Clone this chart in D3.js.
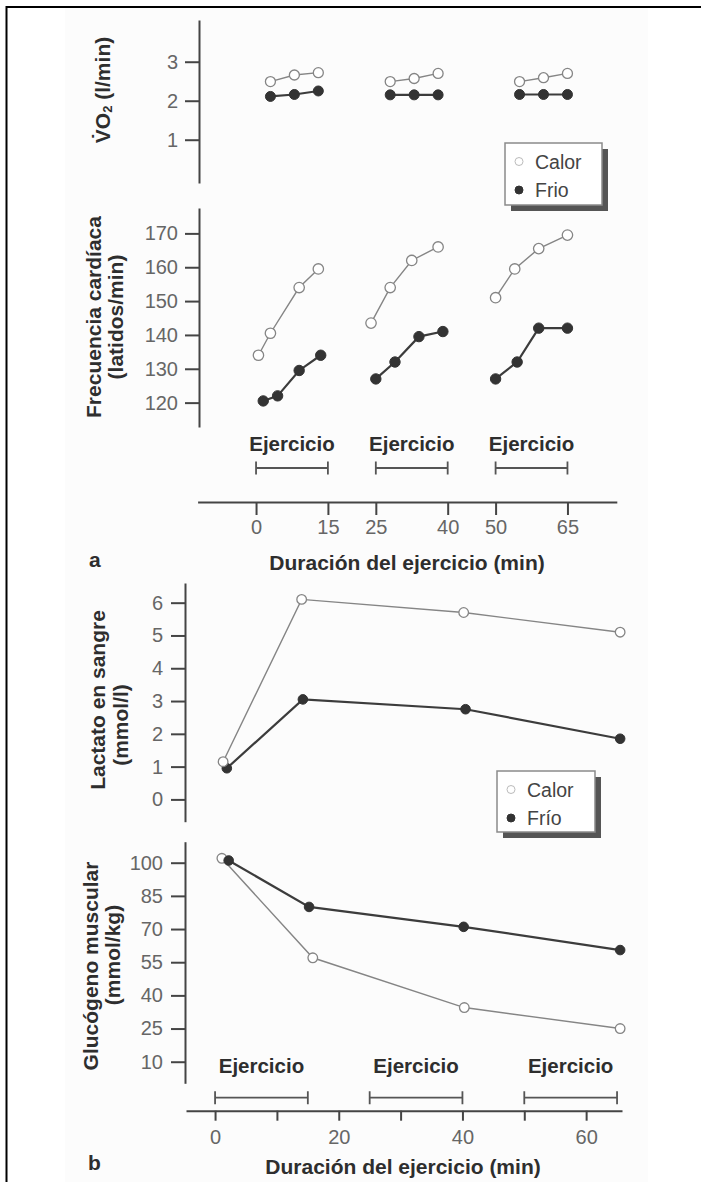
<!DOCTYPE html>
<html><head><meta charset="utf-8">
<script src="https://cdn.jsdelivr.net/npm/d3@7"></script>
<style>body{margin:0;background:#fff}</style>
</head><body><svg id="fig" width="701" height="1182"></svg>
<script>
// ---- data -------------------------------------------------------------
// (a) three 15-min exercise bouts; (b) one continuous session
const seriesA = ["Calor", "Frio"];
const seriesB = ["Calor", "Frío"];
const boutsA = [[0, 15], [25, 40], [50, 65]];
const boutsB = [[0, 15], [25, 40], [50, 65]];
const boutLabel = "Ejercicio";
const xTicksA = [0, 15, 25, 40, 50, 65];
const xTicksB = [0, 10, 20, 30, 40, 50, 60];
const xLabelsB = [0, 20, 40, 60];
const vo2Ticks = [1, 2, 3];
const hrTicks = [120, 130, 140, 150, 160, 170];
const lactTicks = [0, 1, 2, 3, 4, 5, 6];
const glyTicks = [10, 25, 40, 55, 70, 85, 100];

// VO2 (l/min), one sub-array per bout
const vo2TimeCalor = [[3, 8, 13], [28, 33, 38], [55, 60, 65]];
const vo2Calor = [[2.49, 2.66, 2.72], [2.49, 2.57, 2.70], [2.49, 2.59, 2.70]];
const vo2TimeFrio = [[3, 8, 13], [28, 33, 38], [55, 60, 65]];
const vo2Frio = [[2.11, 2.16, 2.25], [2.15, 2.15, 2.15], [2.16, 2.16, 2.16]];

// heart rate (beats/min), one sub-array per bout
const hrTimeCalor = [[0.5, 3, 9, 13], [24, 28, 32.5, 38], [50, 54, 59, 65]];
const hrCalor = [[134, 140.5, 154, 159.5], [143.5, 154, 162, 166], [151, 159.5, 165.5, 169.5]];
const hrTimeFrio = [[1.5, 4.5, 9, 13.5], [25, 29, 34, 39], [50, 54.5, 59, 65]];
const hrFrio = [[120.5, 122, 129.5, 134], [127, 132, 139.5, 141], [127, 132, 142, 142]];

// blood lactate (mmol/l)
const lactTimeCalor = [1.3, 14, 40.2, 65.5];
const lactCalor = [1.15, 6.1, 5.7, 5.1];
const lactTimeFrio = [1.9, 14.2, 40.5, 65.5];
const lactFrio = [0.95, 3.05, 2.75, 1.85];

// muscle glycogen (mmol/kg)
const glyTimeCalor = [1.1, 15.8, 40.3, 65.5];
const glyCalor = [102, 57, 34.5, 25];
const glyTimeFrio = [2.2, 15.2, 40.2, 65.5];
const glyFrio = [101, 80, 71, 60.5];

// ---- drawing ----------------------------------------------------------
const svg = d3.select("#fig");
const FONT = "'Liberation Sans', Arial, Helvetica, sans-serif";
const INK = "#2e2e2e", AXIS = "#444", TICKTXT = "#666";
const CAL_STROKE = "#858585", FRI_FILL = "#333";

svg.append("rect").attr("x", 65).attr("y", 8).attr("width", 583).attr("height", 1174).attr("fill", "#fcfcfc");
svg.append("path").attr("d", "M6.5,1182V7H701").attr("fill", "none").attr("stroke", "#000").attr("stroke-width", 2);

const xA = d3.scaleLinear().domain([-12.2, 75.3]).range([197.6, 616.8]);
const xB = d3.scaleLinear().domain([-4.7, 65.8]).range([186, 622]);
const yVO2 = d3.scaleLinear().domain([-0.11, 4.07]).range([183, 20]);
const yHR = d3.scaleLinear().domain([112.8, 177.5]).range([427, 208]);
const yLact = d3.scaleLinear().domain([-0.68, 6.6]).range([821.7, 583]);
const yGly = d3.scaleLinear().domain([0.24, 109.5]).range([1083.3, 841.7]);

function styleAxis(g) {
  g.select(".domain").attr("stroke", AXIS).attr("stroke-width", 2);
  g.selectAll(".tick line").attr("stroke", AXIS).attr("stroke-width", 2);
  g.selectAll(".tick text").attr("fill", TICKTXT).attr("font-size", 20).attr("font-family", FONT);
}

function leftAxis(scale, x, ticks, pad) {
  const g = svg.append("g").attr("transform", `translate(${x},0)`)
    .call(d3.axisLeft(scale).tickValues(ticks).tickSize(14).tickPadding(pad).tickSizeOuter(0).tickFormat(d => d));
  styleAxis(g);
}

function bottomAxis(scale, y, ticks, size, pad, fmt) {
  const g = svg.append("g").attr("transform", `translate(0,${y})`)
    .call(d3.axisBottom(scale).tickValues(ticks).tickSize(size).tickPadding(pad).tickSizeOuter(0).tickFormat(fmt));
  styleAxis(g);
}

leftAxis(yVO2, 199, vo2Ticks, 7);
leftAxis(yHR, 199, hrTicks, 7);
bottomAxis(xA, 502, xTicksA, 13, 5, d => d);
leftAxis(yLact, 185, lactTicks, 8);
leftAxis(yGly, 185, glyTicks, 8);
bottomAxis(xB, 1110.7, xTicksB, 10, 9, d => xLabelsB.includes(d) ? d : "");

function bouts(scale, list, barY, labelY) {
  list.forEach(([a, b]) => {
    const x0 = scale(a), x1 = scale(b);
    svg.append("path")
      .attr("d", `M${x0},${barY - 6.5}V${barY + 6.5}M${x0},${barY}H${x1}M${x1},${barY - 6.5}V${barY + 6.5}`)
      .attr("stroke", "#555").attr("stroke-width", 1.8).attr("fill", "none");
    svg.append("text").attr("x", (x0 + x1) / 2).attr("y", labelY)
      .attr("text-anchor", "middle").attr("font-family", FONT).attr("font-weight", "bold")
      .attr("font-size", 20.5).attr("fill", INK).text(boutLabel);
  });
}
bouts(xA, boutsA, 468, 450.5);
bouts(xB, boutsB, 1097.7, 1073);

function series(ts, vs, xs, ys, kind, r) {
  const pts = ts.map((t, i) => [xs(t), ys(vs[i])]);
  svg.append("path").attr("d", d3.line()(pts)).attr("fill", "none")
    .attr("stroke", kind === "calor" ? CAL_STROKE : "#3c3c3c")
    .attr("stroke-width", kind === "calor" ? 1.4 : 2.2);
  svg.append("g").selectAll("circle").data(pts).join("circle")
    .attr("cx", d => d[0]).attr("cy", d => d[1]).attr("r", r)
    .attr("fill", kind === "calor" ? "#fff" : FRI_FILL)
    .attr("stroke", kind === "calor" ? CAL_STROKE : FRI_FILL)
    .attr("stroke-width", kind === "calor" ? 1.3 : 1);
}

vo2TimeCalor.forEach((t, i) => series(t, vo2Calor[i], xA, yVO2, "calor", 5));
vo2TimeFrio.forEach((t, i) => series(t, vo2Frio[i], xA, yVO2, "frio", 5));
hrTimeCalor.forEach((t, i) => series(t, hrCalor[i], xA, yHR, "calor", 5.2));
hrTimeFrio.forEach((t, i) => series(t, hrFrio[i], xA, yHR, "frio", 5.2));
series(lactTimeFrio, lactFrio, xB, yLact, "frio", 4.8);
series(lactTimeCalor, lactCalor, xB, yLact, "calor", 4.8);
series(glyTimeCalor, glyCalor, xB, yGly, "calor", 4.8);
series(glyTimeFrio, glyFrio, xB, yGly, "frio", 4.8);

function legend(x, y, w, h, names) {
  svg.append("rect").attr("x", x + 6).attr("y", y + 6).attr("width", w).attr("height", h).attr("fill", "#555");
  svg.append("rect").attr("x", x).attr("y", y).attr("width", w).attr("height", h)
    .attr("fill", "#fff").attr("stroke", "#8a8a8a").attr("stroke-width", 1.5);
  names.forEach((n, i) => {
    const cy = y + 18.5 + i * 28.5;
    svg.append("circle").attr("cx", x + 14).attr("cy", cy).attr("r", 4)
      .attr("fill", i === 0 ? "#fff" : FRI_FILL).attr("stroke", i === 0 ? "#bbb" : FRI_FILL).attr("stroke-width", 1);
    svg.append("text").attr("x", x + 30).attr("y", cy + 7).attr("font-family", FONT)
      .attr("font-size", 19.5).attr("fill", "#444").text(n);
  });
}
legend(505, 143, 97, 62, seriesA);
legend(497, 771, 98, 61, seriesB);

function yLabel(x, y, build) {
  const t = svg.append("text").attr("transform", `translate(${x},${y}) rotate(-90)`)
    .attr("text-anchor", "middle").attr("dominant-baseline", "central")
    .attr("font-family", FONT).attr("font-weight", "bold").attr("font-size", 21).attr("fill", INK);
  build(t);
}
yLabel(102, 90, t => {
  t.append("tspan").text("V\u0307O");
  t.append("tspan").attr("font-size", 13).attr("dy", 5).text("2");
  t.append("tspan").attr("dy", -5).text(" (l/min)");
});
yLabel(93, 317, t => t.text("Frecuencia cardíaca"));
yLabel(115, 317, t => t.text("(latidos/min)"));
yLabel(97, 700, t => t.text("Lactato en sangre"));
yLabel(120, 725, t => t.text("(mmol/l)"));
yLabel(90, 966, t => t.text("Glucógeno muscular"));
yLabel(112, 955, t => t.text("(mmol/kg)"));

function title(x, y, s, anchor) {
  svg.append("text").attr("x", x).attr("y", y).attr("text-anchor", anchor)
    .attr("font-family", FONT).attr("font-weight", "bold").attr("font-size", 21).attr("fill", INK).text(s);
}
title(407, 570, "Duración del ejercicio (min)", "middle");
title(403, 1174, "Duración del ejercicio (min)", "middle");
title(89, 567, "a", "start");
title(88, 1170, "b", "start");
</script>
</body></html>
